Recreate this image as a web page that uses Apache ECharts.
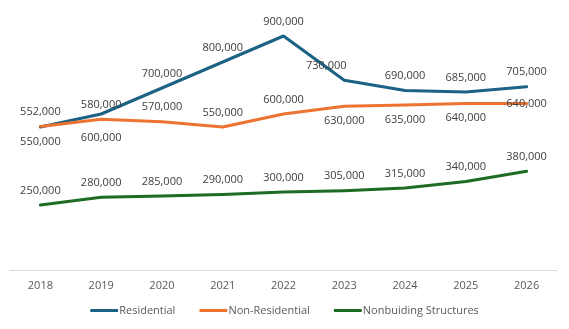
<!DOCTYPE html>
<html>
<head>
<meta charset="utf-8">
<script src="https://cdn.jsdelivr.net/npm/echarts@6/dist/echarts.min.js"></script>
<style>
  html, body { margin: 0; padding: 0; background: #fff; }
  #chart { width: 569px; height: 329px; }
</style>
</head>
<body>
<div id="chart"></div>
<script>
// Construction spending by type, 2018–2026
const years = ['2018', '2019', '2020', '2021', '2022', '2023', '2024', '2025', '2026'];
const residential = [550000, 600000, 700000, 800000, 900000, 730000, 690000, 685000, 705000];
const nonResidential = [552000, 580000, 570000, 550000, 600000, 630000, 635000, 640000, 640000];
const nonbuilding = [250000, 280000, 285000, 290000, 300000, 305000, 315000, 340000, 380000];

// Where each point's value label sits
const residentialLabelPos = ['bottom', 'bottom', 'top', 'top', 'top', 'top', 'top', 'top', 'top'];
const nonResidentialLabelPos = ['top', 'top', 'top', 'top', 'top', 'bottom', 'bottom', 'bottom', 'inside'];
// Hand-nudged labels (index -> pixel shift) to keep them clear of the lines
const residentialLabelNudge = { 1: [0, 9], 5: [-18, 0] };

const fmt = v => v.toLocaleString('en-US');
const FONT = '"Open Sans", "Liberation Sans", sans-serif';

function withLabels(values, positions) {
  return values.map((v, i) => ({
    value: v,
    label: { position: positions ? positions[i] : 'top' }
  }));
}

function lineSeries(name, color, values, positions, nudge) {
  return {
    name: name,
    type: 'line',
    data: withLabels(values, positions),
    symbol: 'circle',
    symbolSize: 2,
    showSymbol: true,
    showAllSymbol: true,
    lineStyle: { color: color, width: 3, cap: 'round', join: 'round' },
    itemStyle: { color: color },
    label: {
      show: true,
      distance: 8,
      formatter: p => fmt(p.value),
      fontFamily: FONT,
      fontSize: 11,
      color: '#404040'
    },
    labelLayout: p => {
      const n = nudge && nudge[p.dataIndex];
      return n ? { dx: n[0], dy: n[1], hideOverlap: false } : { hideOverlap: false };
    },
    emphasis: { disabled: true }
  };
}

const chart = echarts.init(document.getElementById('chart'), null, { renderer: 'canvas' });
chart.setOption({
  animation: false,
  backgroundColor: '#fff',
  grid: { left: 10, right: 12, top: 10, bottom: 59 },
  xAxis: {
    type: 'category',
    data: years,
    boundaryGap: true,
    axisLine: { lineStyle: { color: '#d9d9d9', width: 1 } },
    axisTick: { show: false },
    axisLabel: { color: '#595959', fontFamily: FONT, fontSize: 11, margin: 10 }
  },
  yAxis: {
    type: 'value',
    min: 0,
    max: 1000000,
    show: false,
    splitLine: { show: false }
  },
  legend: {
    bottom: 8,
    left: 'center',
    itemWidth: 28,
    itemHeight: 3,
    itemGap: 24,
    icon: 'roundRect',
    textStyle: { color: '#595959', fontFamily: FONT, fontSize: 11, padding: [0, 0, 0, -4] },
    data: ['Residential', 'Non-Residential', 'Nonbuiding Structures']
  },
  series: [
    lineSeries('Residential', '#1b6284', residential, residentialLabelPos, residentialLabelNudge),
    lineSeries('Non-Residential', '#ee7330', nonResidential, nonResidentialLabelPos, null),
    lineSeries('Nonbuiding Structures', '#1e6b25', nonbuilding, null, null)
  ]
});
</script>
</body>
</html>
